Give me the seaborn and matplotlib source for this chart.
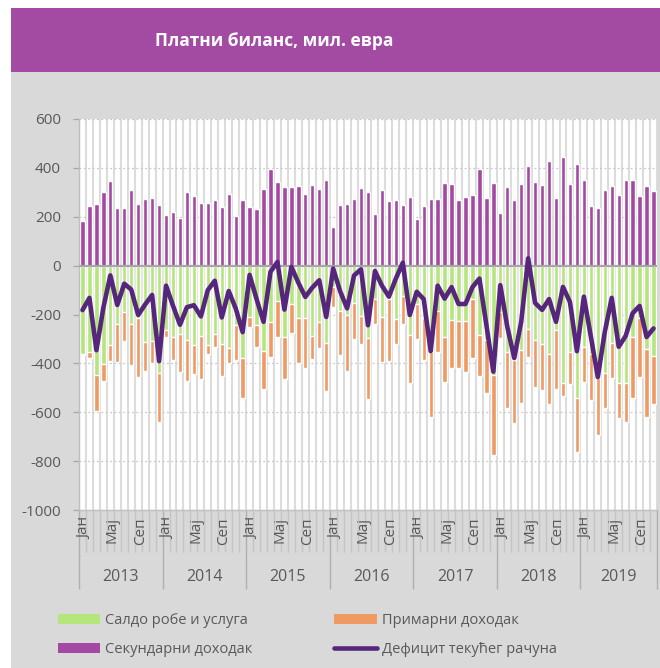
import numpy as np
import pandas as pd
import matplotlib
matplotlib.use("Agg")
import matplotlib.pyplot as plt
import matplotlib.transforms as mtransforms
from matplotlib.patches import Rectangle, Patch
from matplotlib.lines import Line2D
import seaborn as sns

# ---------------- data (млн евра), Jan 2013 - Nov 2019 ----------------
years = ["2013", "2014", "2015", "2016", "2017", "2018", "2019"]
month_names = {0: "Јан", 4: "Мај", 8: "Сеп"}

goods = [-362, -352, -448, -403, -325, -239, -190, -237, -214, -313, -307, -441,
         -263, -291, -278, -305, -325, -287, -325, -280, -320, -339, -241, -380,
         -210, -244, -350, -230, -146, -291, -158, -215, -214, -288, -230, -318,
         -87, -186, -203, -151, -205, -295, -135, -210, -135, -220, -125, -284,
         -159, -216, -352, -186, -291, -223, -227, -227, -135, -284, -305, -448,
         -189, -352, -386, -346, -260, -305, -322, -362, -264, -479, -352, -543,
         -332, -362, -461, -441, -318, -482, -482, -291, -216, -341, -370]

primary = [-4, -25, -147, -69, -65, -157, -119, -171, -240, -117, -90, -197,
           -28, -95, -156, -166, -120, -177, -36, -53, -133, -61, -144, -160,
           -40, -91, -156, -145, -145, -174, -117, -185, -204, -96, -106, -195,
           -82, -180, -228, -151, -117, -251, -102, -186, -255, -102, -112, -198,
           -143, -170, -266, -169, -184, -197, -193, -207, -245, -166, -215, -326,
           -109, -232, -259, -217, -113, -190, -187, -204, -241, -53, -134, -220,
           -143, -188, -232, -142, -140, -142, -159, -252, -238, -277, -197]

secondary = [184, 243, 253, 300, 348, 235, 235, 310, 252, 271, 277, 248,
             207, 220, 193, 300, 283, 257, 256, 269, 239, 294, 205, 268,
             241, 231, 313, 396, 341, 321, 323, 325, 292, 329, 313, 350,
             160, 250, 254, 272, 316, 303, 211, 310, 265, 269, 248, 282,
             192, 245, 271, 271, 339, 332, 268, 280, 290, 396, 276, 339,
             216, 320, 269, 335, 408, 344, 329, 427, 276, 446, 336, 415,
             350, 243, 235, 309, 326, 291, 350, 350, 286, 324, 307]

deficit = [-182, -132, -346, -172, -40, -161, -74, -98, -202, -159, -120, -391,
           -82, -164, -242, -170, -162, -208, -100, -62, -212, -104, -175, -272,
           -38, -137, -230, -25, 15, -180, -5, -70, -128, -90, -60, -210,
           -12, -105, -175, -40, -15, -244, -22, -82, -127, -53, 12, -202,
           -107, -137, -350, -82, -135, -88, -157, -157, -88, -53, -243, -434,
           -80, -250, -378, -230, 30, -153, -181, -137, -230, -87, -149, -350,
           -127, -290, -456, -272, -132, -332, -288, -195, -165, -292, -257]

title = "Платни биланс, мил. евра"
labels = ["Салдо робе и услуга", "Примарни доходак",
          "Секундарни доходак", "Дефицит текућег рачуна"]

# ---------------- style ----------------
GREEN = "#b4e67c"
ORANGE = "#ee9a62"
PURPLE = "#a349a4"
LINEC = "#56267c"
BG = "#d9d9d9"
TXT = "#595959"

sns.set_theme(style="white")
plt.rcParams["font.family"] = ["Open Sans", "DejaVu Sans"]

n = len(goods)
df = pd.DataFrame({
    "month": np.arange(n),
    "goods": goods,
    "primary": primary,
    "secondary": secondary,
    "deficit": deficit,
})
df["neg_total"] = df["goods"] + df["primary"]

W, H = 660, 668
fig = plt.figure(figsize=(W / 100, H / 100), dpi=100)
fig.patch.set_facecolor("white")

# gray panel and purple header
fig.add_artist(Rectangle((11 / W, 0), 1 - 11 / W, (H - 72) / H,
                         transform=fig.transFigure, facecolor=BG,
                         edgecolor="none", zorder=-10))
fig.add_artist(Rectangle((11 / W, (H - 72) / H), 1 - 11 / W, 64 / H,
                         transform=fig.transFigure, facecolor="#a34aa3",
                         edgecolor="none", zorder=-10))
fig.text(274 / W, (H - 41) / H, title, color="white", fontweight="bold",
         fontsize=12.5, ha="center", va="center")

ax = fig.add_axes([79 / W, (H - 510) / H, 578 / W, 391 / H])
ax.set_facecolor("white")

bw = 0.62
sns.barplot(data=df, x="month", y="neg_total", color=ORANGE, width=bw,
            saturation=1, native_scale=True, ax=ax, zorder=2)
sns.barplot(data=df, x="month", y="goods", color=GREEN, width=bw,
            saturation=1, native_scale=True, ax=ax, zorder=2)
sns.barplot(data=df, x="month", y="secondary", color=PURPLE, width=bw,
            saturation=1, native_scale=True, ax=ax, zorder=2)
sns.lineplot(data=df, x="month", y="deficit", color=LINEC, linewidth=3.3,
             ax=ax, zorder=5, solid_joinstyle="round", solid_capstyle="round")

ax.set_xlim(-0.5, n - 0.5)
ax.set_ylim(-1000, 600)
ax.set_xlabel("")
ax.set_ylabel("")

# gridlines
for b in np.arange(-0.5, n, 1.0):
    ax.axvline(b, color="#dcdcdc", lw=1.5, zorder=0)
for yv in range(-1000, 601, 200):
    if yv != 0:
        ax.axhline(yv, color="#c8c8c8", lw=0.9, ls=(0, (1.5, 2)), zorder=1)
ax.axhline(0, color="#a6a6a6", lw=1.6, zorder=4)

for s in ["top", "right"]:
    ax.spines[s].set_visible(False)
ax.spines["left"].set_color("#bfbfbf")
ax.spines["left"].set_linewidth(1.0)
ax.spines["bottom"].set_color("#bfbfbf")
ax.spines["bottom"].set_linewidth(1.0)

# y axis
ax.set_yticks(range(-1000, 601, 200))
ax.set_yticklabels([str(v) for v in range(-1000, 601, 200)])
ax.tick_params(axis="y", left=True, length=4, width=0.9, color="#a6a6a6",
               labelcolor=TXT, labelsize=11, pad=9)

# x axis ticks: month boundaries (minor) and year boundaries (major)
year_bounds = [-0.5 + 12 * k for k in range(len(years))] + [n - 0.5]
month_bounds = [b for b in np.arange(-0.5, n, 1.0) if b not in year_bounds]
ax.set_xticks(year_bounds)
ax.set_xticklabels([""] * len(year_bounds))
ax.set_xticks(month_bounds, minor=True)
ax.tick_params(axis="x", which="major", bottom=True, length=57, width=1.0,
               color="#b0b0b0", direction="out")
ax.tick_params(axis="x", which="minor", bottom=True, length=30, width=1.0,
               color="#c4c4c4", direction="out")

trans = mtransforms.blended_transform_factory(ax.transData, ax.transAxes)
for k, yr in enumerate(years):
    for m, lab in month_names.items():
        idx = 12 * k + m
        if idx < n:
            ax.text(idx + 0.3, -0.018, lab, transform=trans, rotation=90,
                    ha="center", va="top", fontsize=11, color=TXT)
    last = min(12 * k + 11, n - 1)
    ax.text((12 * k + last) / 2, -0.171, yr, transform=trans,
            ha="center", va="center", fontsize=11.5, color=TXT)

# legend
handles = [Patch(facecolor=GREEN, edgecolor="none"),
           Patch(facecolor=PURPLE, edgecolor="none"),
           Patch(facecolor=ORANGE, edgecolor="none"),
           Line2D([], [], color=LINEC, lw=3.3, solid_capstyle="round")]
leg_labels = [labels[0], labels[2], labels[1], labels[3]]
fig.legend(handles, leg_labels, ncol=2, loc="center left",
           bbox_to_anchor=(58 / W, (H - 635) / H), frameon=False,
           fontsize=10.5, handlelength=2.9, handleheight=0.75,
           handletextpad=0.35, columnspacing=5.6, labelspacing=0.95,
           borderpad=0, borderaxespad=0, labelcolor=TXT)

fig.savefig("out.png", dpi=100)
